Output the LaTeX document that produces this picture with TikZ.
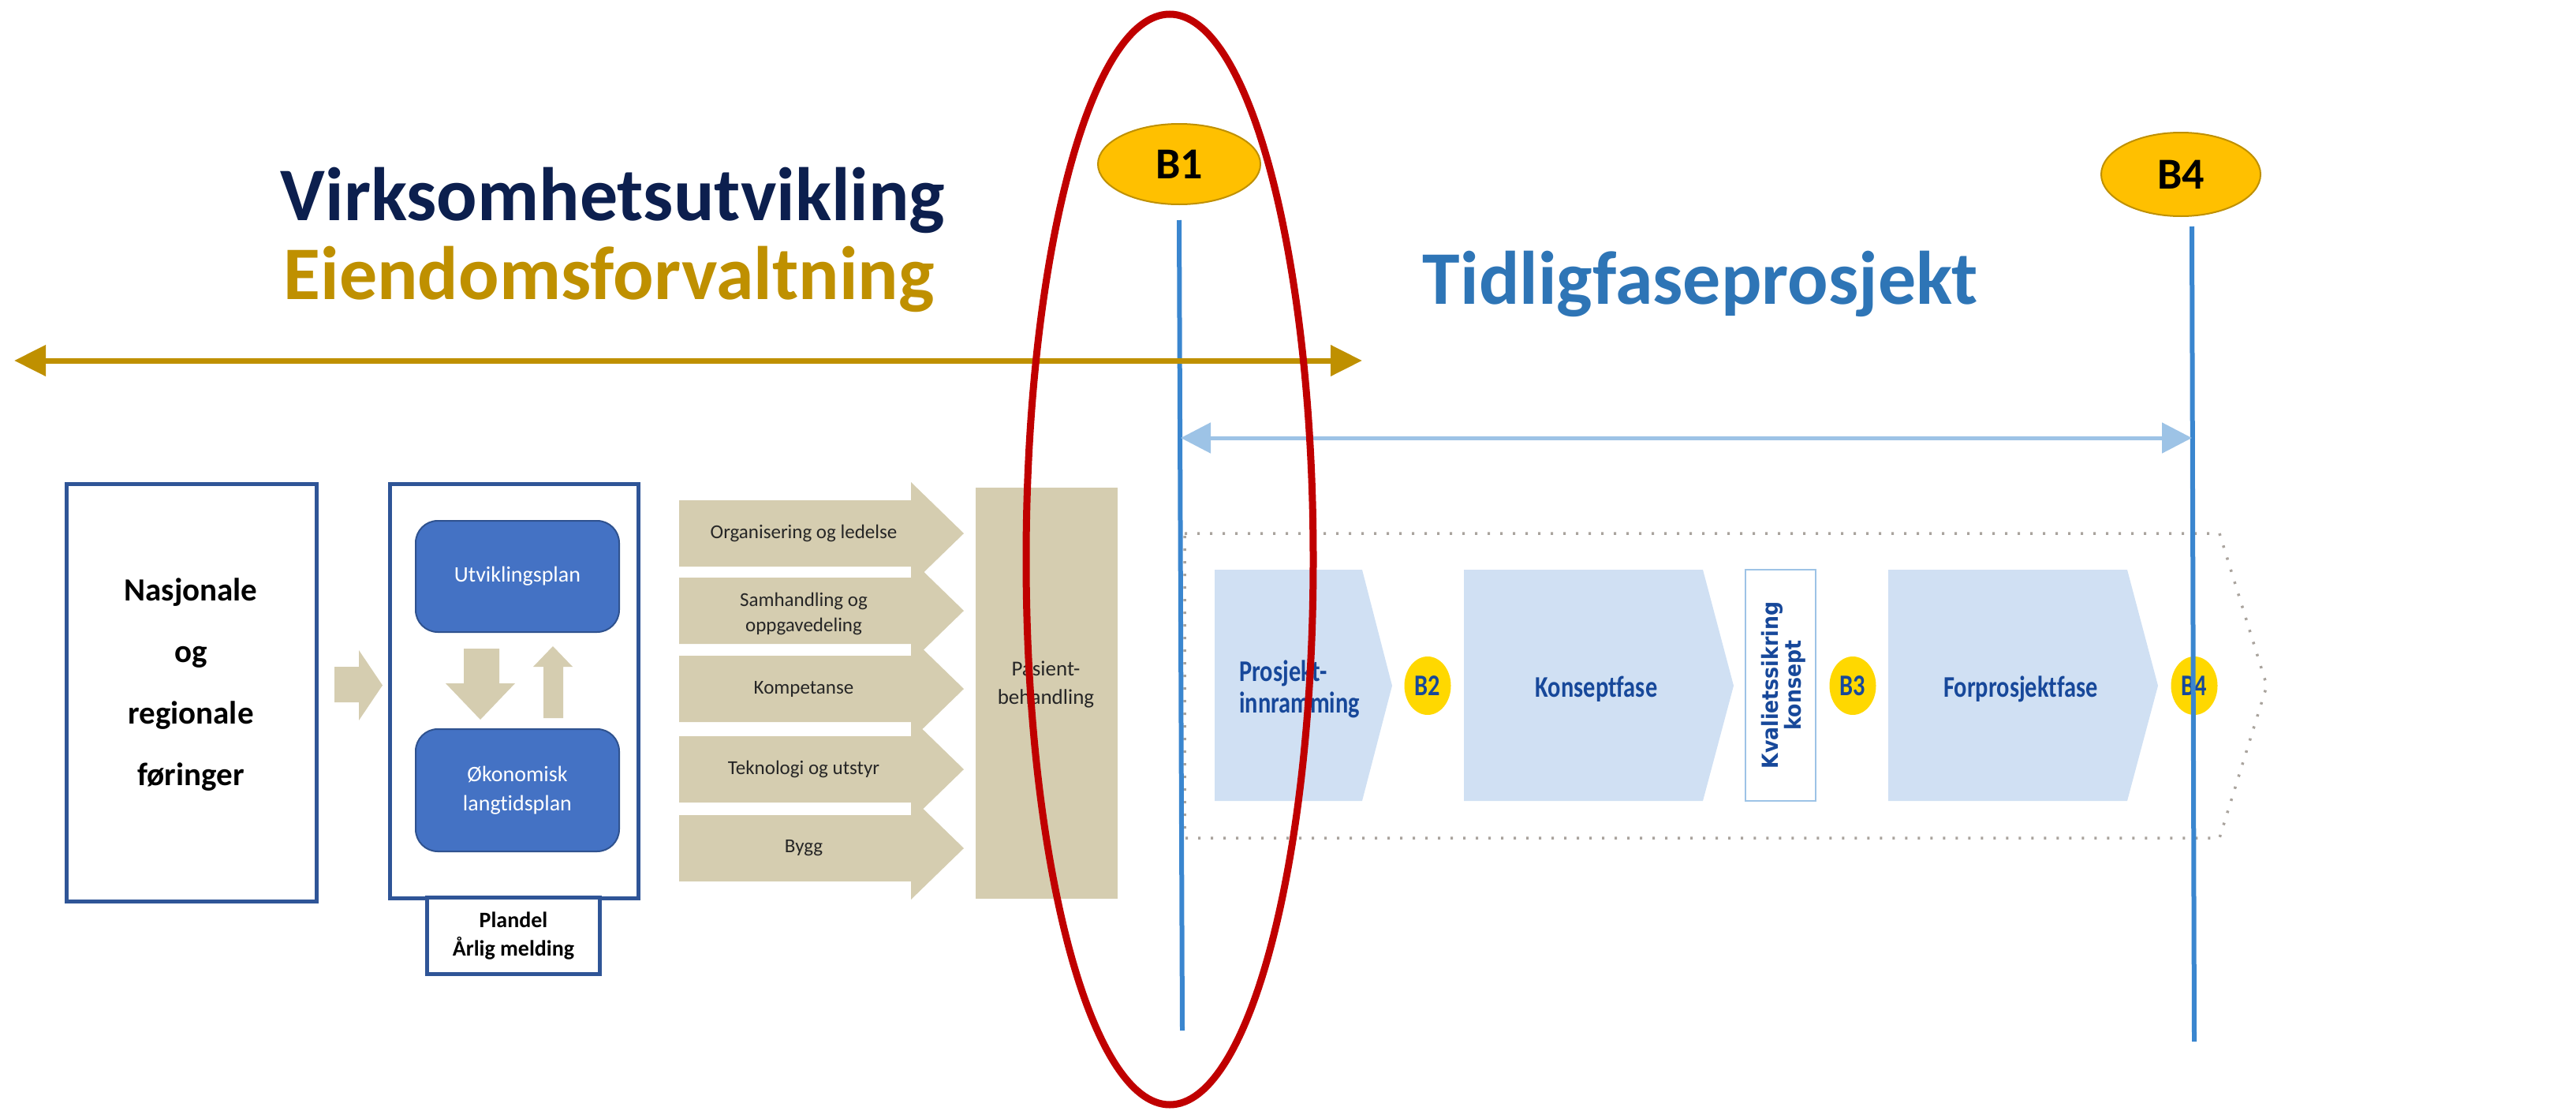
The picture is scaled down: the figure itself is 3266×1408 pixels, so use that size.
\documentclass[tikz,border=0pt]{standalone}
\usepackage{fontspec}
\setmainfont{Carlito}[Ligatures={NoCommon}]
\newfontfamily\condfont[FakeStretch=0.8, Ligatures={NoCommon}]{Carlito}
\newfontfamily\widefont[FakeStretch=0.9]{DejaVu Sans}
\usetikzlibrary{arrows.meta,shapes.geometric}

\definecolor{navytitle}{HTML}{0C1F4E}
\definecolor{goldline}{HTML}{BF9000}
\definecolor{tfblue}{HTML}{2E75B6}
\definecolor{boxblue}{HTML}{2F5597}
\definecolor{planfill}{HTML}{4472C4}
\definecolor{planedge}{HTML}{2F528F}
\definecolor{tan}{HTML}{D5CDB0}
\definecolor{phasefill}{HTML}{D0E0F3}
\definecolor{phasetext}{HTML}{17489A}
\definecolor{gateyellow}{HTML}{FFD800}
\definecolor{milestone}{HTML}{FFC000}
\definecolor{gatelineblue}{HTML}{3A86CF}
\definecolor{spanblue}{HTML}{9DC3E6}
\definecolor{ringred}{HTML}{C00000}
\definecolor{dotgray}{HTML}{A9A39D}

\tikzset{
  bigtitle/.style={inner sep=0, font=\fontsize{96}{96}\selectfont\bfseries},
  milestonebadge/.style={ellipse, fill=milestone, draw=goldline, line width=2,
    inner sep=0, font=\fontsize{56}{56}\selectfont\bfseries},
  gateline/.style={draw=gatelineblue, line width=6},
  framebox/.style={rectangle, draw=boxblue, line width=5, fill=white, inner sep=0},
  planbox/.style={rectangle, rounded corners=28, fill=planfill, draw=planedge,
    line width=2, text=white, align=center, inner sep=0,
    font=\fontsize{28}{37}\selectfont},
  tanarrow/.style={fill=tan},
  tanlabel/.style={inner sep=0, align=center, text=black!85,
    font=\fontsize{25}{32}\selectfont},
  phase/.style={fill=phasefill},
  phaselabel/.style={inner sep=0, text=phasetext, font=\condfont\fontsize{38}{40}\selectfont\bfseries},
  gatedot/.style={ellipse, fill=gateyellow, minimum width=59, minimum height=74,
    inner sep=0, text=phasetext, font=\condfont\fontsize{38}{38}\selectfont\bfseries},
}

\begin{document}
\begin{tikzpicture}[x=1pt,y=-1pt]
\useasboundingbox (0,0) rectangle (3266,1408);

% ---------- headings ----------
\node[bigtitle, text=navytitle, anchor=base] (virk) at (777,279) {Virksomhetsutvikling};
\node[bigtitle, text=goldline, anchor=base] (eiend) at (772,379) {Eiendomsforvaltning};
\node[bigtitle, text=tfblue, anchor=base] (tidlig) at (2156,385) {Tidligfaseprosjekt};

% ---------- milestone badges ----------
\node[milestonebadge, minimum width=206, minimum height=102] (B1) at (1495,208) {B1};
\node[milestonebadge, minimum width=202, minimum height=106] (B4) at (2765,221) {B4};

% ---------- left part: guidelines and plans ----------
\node[framebox, minimum width=317, minimum height=529] (nasj) at (243,878) {};
\node[inner sep=0, align=center, font=\fontsize{41}{78}\selectfont\bfseries] (nasjtxt) at (242,868)
  {Nasjonale\\og\\regionale\\føringer};

\fill[tanarrow] (424,845) -- (455,845) -- (455,824) -- (485,868.5) -- (455,913) -- (455,890) -- (424,890) -- cycle;

\node[framebox, minimum width=315, minimum height=525] (plan) at (651.5,875.5) {};
\node[framebox, minimum width=219, minimum height=97, align=center,
  font=\fontsize{28}{36}\selectfont\bfseries] (plandel) at (651,1186) {Plandel\\Årlig melding};

\node[planbox, minimum width=258, minimum height=141] (utv) at (656,730.5) {Utviklingsplan};
\node[planbox, minimum width=258, minimum height=155] (okon) at (656,1001.5) {Økonomisk\\langtidsplan};

\fill[tanarrow] (588,822) -- (633,822) -- (633,866) -- (653,866) -- (609,912) -- (565,866) -- (588,866) -- cycle;
\fill[tanarrow] (689,910) -- (714,910) -- (714,845) -- (726,845) -- (701,819) -- (676,845) -- (689,845) -- cycle;

% ---------- five input arrows ----------
\foreach \cy in {676,774,873,975,1075}{
  \fill[tanarrow] (861,\cy-42) -- (1155,\cy-42) -- (1155,\cy-65) -- (1222,\cy)
    -- (1155,\cy+65) -- (1155,\cy+42) -- (861,\cy+42) -- cycle;
}
\node[tanlabel] (org) at (1019,676) {Organisering og ledelse};
\node[tanlabel] (samh) at (1019,778) {Samhandling og\\oppgavedeling};
\node[tanlabel] (komp) at (1019,873) {Kompetanse};
\node[tanlabel] (tekn) at (1019,975) {Teknologi og utstyr};
\node[tanlabel] (bygg) at (1019,1075) {Bygg};

\node[rectangle, fill=tan, minimum width=180, minimum height=521, inner sep=0] (pasient) at (1327,878.5) {};
\node[tanlabel, font=\fontsize{27}{36}\selectfont] (pasienttxt) at (1326,868) {Pasient-\\behandling};

% ---------- early phase project ----------
\draw[dotgray, line width=3.5, dash pattern=on 3pt off 13pt]
  (1502,676) -- (2814,676) -- (2874,869) -- (2814,1062) -- (1502,1062) -- cycle;

\fill[phase] (1540,722) -- (1727,722) -- (1765,869) -- (1727,1015) -- (1540,1015) -- cycle;
\fill[phase] (1856,722) -- (2159,722) -- (2198,869) -- (2159,1015) -- (1856,1015) -- cycle;
\fill[phase] (2394,722) -- (2697,722) -- (2736,869) -- (2697,1015) -- (2394,1015) -- cycle;

\node[phaselabel, anchor=base west] (prosj) at (1571,863) {Prosjekt-};
\node[phaselabel, anchor=base west] (innr) at (1571,903) {innramming};
\node[phaselabel, anchor=base] (konsept) at (2024,883) {Konseptfase};
\node[phaselabel, anchor=base] (forpro) at (2562,883) {Forprosjektfase};

\node[rectangle, draw=spanblue, line width=2.5, fill=white, minimum width=89, minimum height=293,
  inner sep=0] (kval) at (2257.5,868.5) {};
\node[inner sep=0, rotate=90, align=center, text=phasetext,
  font=\widefont\fontsize{28}{29}\selectfont\bfseries] (kvaltxt) at (2261,868.5) {Kvalietssikring\\konsept};

\node[gatedot] (B2) at (1810,869) {B2};
\node[gatedot] (B3) at (2349,869) {B3};
\node[gatedot] (B4g) at (2782,869) {B4};

% ---------- decision gate lines ----------
\coordinate (b1top) at (1495,279);
\coordinate (b1bot) at (1499,1306);
\coordinate (b4top) at (2779,287);
\coordinate (b4bot) at (2782,1320);
\draw[gateline] (b1top) -- (b1bot);
\draw[gateline] (b4top) -- (b4bot);

% ---------- span arrows ----------
\coordinate (goldL) at (18,457);
\coordinate (goldR) at (1727,457);
\draw[goldline, line width=7, {Triangle[length=40pt,width=38pt]}-{Triangle[length=40pt,width=38pt]}] (goldL) -- (goldR);

\coordinate (spanL) at (1497,555);
\coordinate (spanR) at (2779,555);
\draw[spanblue, line width=5, {Triangle[length=38pt,width=38pt]}-{Triangle[length=38pt,width=38pt]}] (spanL) -- (spanR);

% ---------- highlight ring around B1 ----------
\draw[ringred, line width=9] (1483,709) ellipse [x radius=182, y radius=691];

\end{tikzpicture}
\end{document}
